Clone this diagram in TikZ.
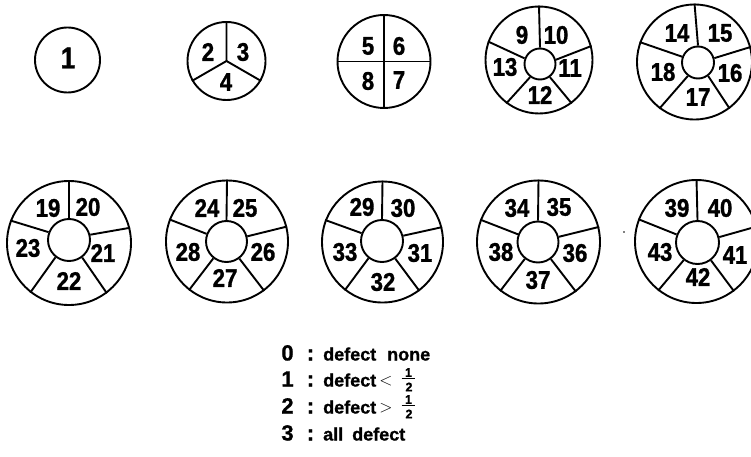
\documentclass[tikz,border=0pt]{standalone}
\usepackage{fontspec}
\newfontfamily\numfont{Liberation Sans Bold}[FakeStretch=0.87, FakeBold=1.2]
\newfontfamily\legfont{Liberation Sans Bold}[FakeBold=1.0]
\begin{document}
\begin{tikzpicture}[x=1pt,y=-1pt,
  ring/.style={circle, draw, line width=1.9pt, inner sep=0pt, minimum size=#1},
  spoke/.style={line width=1.9pt},
  num/.style={font=\numfont\fontsize{25.5}{25.5}\selectfont, inner sep=0pt},
  legnum/.style={font=\legfont\fontsize{22}{22}\selectfont, inner sep=0pt, anchor=base},
  legtxt/.style={font=\legfont\fontsize{18}{18}\selectfont, inner sep=0pt, anchor=base west},
  rel/.style={font=\fontsize{19}{19}\selectfont, inner sep=0pt},
  fracdig/.style={font=\legfont\fontsize{12.5}{12.5}\selectfont, inner sep=0pt},
  fracbar/.style={line width=1.3pt}]
\useasboundingbox (0,0) rectangle (751,457);

% ---- row 1 ----
\node[ring=65pt] (c1) at (67.5,60) {};
\node[num, font=\numfont\fontsize{30}{30}\selectfont] (l1) at (68,58) {1};

\node[ring=78pt] (c2) at (226.5,61) {};
\draw[spoke] (c2.90) -- (c2.center) -- (c2.210);
\draw[spoke] (c2.center) -- (c2.330);
\node[num] (l2) at (208,52) {2};
\node[num] (l3) at (243,52) {3};
\node[num] (l4) at (226,82) {4};

\node[ring=93pt] (c3) at (384,61.5) {};
\draw[spoke] (c3.north) -- (c3.south);
\draw[spoke] (c3.west) -- (c3.east);
\node[num] (l5) at (368,46) {5};
\node[num] (l6) at (399,46) {6};
\node[num] (l7) at (399,80) {7};
\node[num] (l8) at (368,81) {8};

\node[ring=107pt] (c4) at (539,60) {};
\node[ring=31pt] (i4) at (540,64) {};
\foreach \a in {90,15,-53,-127,160} \draw[spoke] (i4.\a) -- (c4.\a);
\node[num] (l9) at (522,35) {9};
\node[num] (l10) at (556,35) {10};
\node[num] (l11) at (570,68) {11};
\node[num] (l12) at (540,95) {12};
\node[num] (l13) at (505,67) {13};

\node[ring=115pt] (c5) at (694.5,62) {};
\node[ring=32pt] (i5) at (698,62.5) {};
\foreach \a in {90,15,-53,-127,160} \draw[spoke] (i5.\a) -- (c5.\a);
\node[num] (l14) at (677,33) {14};
\node[num] (l15) at (720,33) {15};
\node[num] (l16) at (730,73) {16};
\node[num] (l17) at (698,97) {17};
\node[num] (l18) at (663,72) {18};

% ---- row 2 ----
\node[ring=124pt] (c6) at (69,243) {};
\node[ring=42pt] (i6) at (69,240) {};
\foreach \a in {90,14,-53,-128,159} \draw[spoke] (i6.\a) -- (c6.\a);
\node[num] (l19) at (48,208) {19};
\node[num] (l20) at (88,207) {20};
\node[num] (l21) at (103,253) {21};
\node[num] (l22) at (69,281) {22};
\node[num] (l23) at (28,248) {23};

\node[ring=122pt] (c7) at (227,241.5) {};
\node[ring=41pt] (i7) at (226.5,241.5) {};
\foreach \a in {90,14,-53,-128,159} \draw[spoke] (i7.\a) -- (c7.\a);
\node[num] (l24) at (207,208) {24};
\node[num] (l25) at (245,208) {25};
\node[num] (l26) at (263,252) {26};
\node[num] (l27) at (225,278) {27};
\node[num] (l28) at (188,252) {28};

\node[ring=121pt] (c8) at (382.5,242) {};
\node[ring=42pt] (i8) at (382,241) {};
\foreach \a in {90,14,-53,-128,159} \draw[spoke] (i8.\a) -- (c8.\a);
\node[num] (l29) at (362,207) {29};
\node[num] (l30) at (403,208) {30};
\node[num] (l31) at (420,253) {31};
\node[num] (l32) at (383,282) {32};
\node[num] (l33) at (345,252) {33};

\node[ring=123pt] (c9) at (538.5,242) {};
\node[ring=41pt] (i9) at (538,242) {};
\foreach \a in {90,14,-53,-128,159} \draw[spoke] (i9.\a) -- (c9.\a);
\node[num] (l34) at (517,208) {34};
\node[num] (l35) at (559,207) {35};
\node[num] (l36) at (575,253) {36};
\node[num] (l37) at (538,280) {37};
\node[num] (l38) at (501,252) {38};

\node[ring=123pt] (c10) at (696.5,241.5) {};
\node[ring=43pt] (i10) at (697.5,242.5) {};
\foreach \a in {90,14,-53,-128,159} \draw[spoke] (i10.\a) -- (c10.\a);
\node[num] (l39) at (677,208) {39};
\node[num] (l40) at (720,208) {40};
\node[num] (l41) at (735,255) {41};
\node[num] (l42) at (698,277) {42};
\node[num] (l43) at (660,252) {43};

\fill (624,232) circle (0.9pt);

% ---- legend ----
\node[legnum] (d0) at (287.5,360.5) {0};
\node[legnum] (k0) at (310.5,360.5) {:};
\node[legtxt] (t0) at (323,360.5) {defect\hspace{11pt}none};

\node[legnum] (d1) at (287.5,386.5) {1};
\node[legnum] (k1) at (310.5,386.5) {:};
\node[legtxt] (t1) at (323,386.5) {defect};
\node[rel] (r1) at (386,381) {$<$};
\node[fracdig] (n1) at (408.5,372.5) {1};
\node[fracdig] (m1) at (409,387) {2};
\coordinate (b1l) at (401.5,378.8);
\coordinate (b1r) at (415,378.8);
\draw[fracbar] (b1l) -- (b1r);

\node[legnum] (d2) at (287.5,413.5) {2};
\node[legnum] (k2) at (310.5,413.5) {:};
\node[legtxt] (t2) at (323,413.5) {defect};
\node[rel] (r2) at (386,408) {$>$};
\node[fracdig] (n2) at (408.5,399.5) {1};
\node[fracdig] (m2) at (409,414) {2};
\coordinate (b2l) at (401.5,405.8);
\coordinate (b2r) at (415,405.8);
\draw[fracbar] (b2l) -- (b2r);

\node[legnum] (d3) at (287.5,440.5) {3};
\node[legnum] (k3) at (310.5,440.5) {:};
\node[legtxt] (t3) at (323,440.5) {all\hspace{9pt}defect};
\end{tikzpicture}
\end{document}
